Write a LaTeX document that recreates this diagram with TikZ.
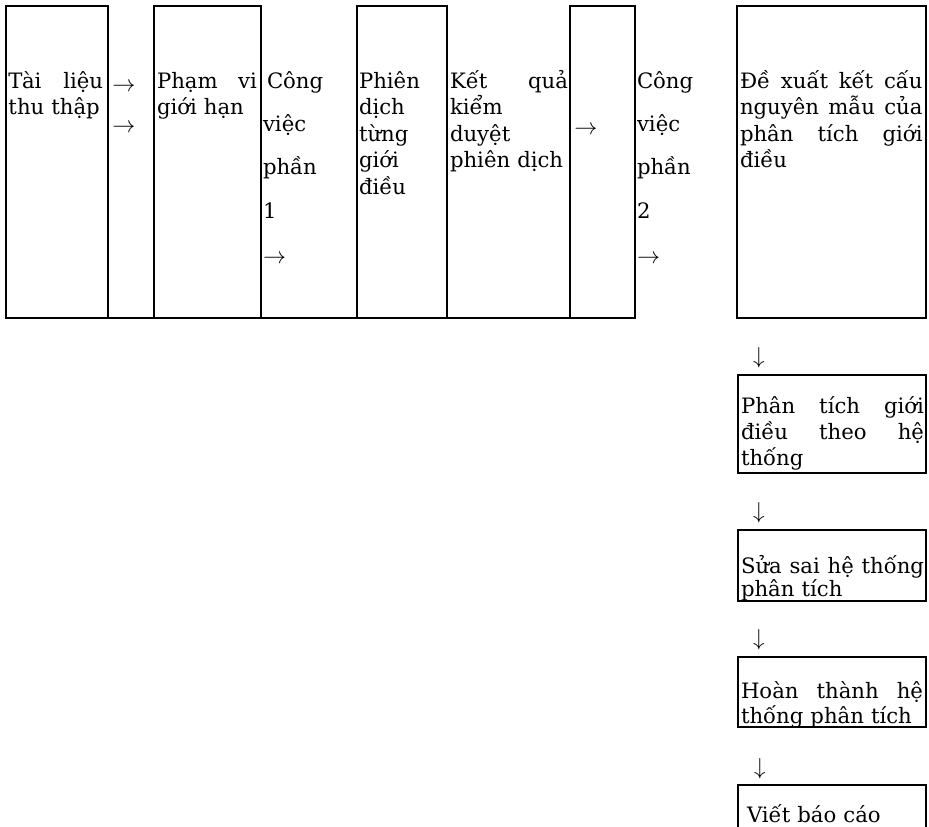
\documentclass[tikz,border=0pt]{standalone}
\usepackage{fontspec}
\setmainfont{DejaVu Serif}
\newcommand\jl[2]{\leavevmode\hbox to #1{\spaceskip=0.3em plus 10em\relax #2}}
\tikzset{
  boxline/.style={line width=1.4pt, line join=miter},
  txt/.style={anchor=base west, inner sep=0pt, outer sep=0pt, align=left,
              font=\fontsize{15.9pt}{#1}\selectfont},
  txt/.default=19.9pt,
  glyph/.style={inner sep=0pt, outer sep=0pt, font=\fontsize{17.28pt}{20pt}\selectfont},
}
\begin{document}
\begin{tikzpicture}[x=0.75pt,y=-0.75pt]
\clip (0,0) rectangle (929,826);
\fill[white] (0,0) rectangle (929,826);
% top row boxes
\draw[boxline] (6,6) rectangle (108,318);
\draw[boxline] (154,6) rectangle (261,318);
\draw[boxline] (357,6) rectangle (447,318);
\draw[boxline] (570,6) rectangle (635,318);
\draw[boxline] (737,6) rectangle (926,318);
\draw[boxline] (6,318) -- (635,318);
% right column boxes
\draw[boxline] (738,375) rectangle (926,473);
\draw[boxline] (738,530) rectangle (926,601);
\draw[boxline] (738,657) rectangle (926,727);
\draw[boxline] (738,840) -- (738,785) -- (926,785) -- (926,840);
% texts top row
\node[txt, text width=94.5] (t1) at (8.5,88) {\jl{70.9pt}{Tài liệu}\\thu thập};
\node[glyph] (ar1) at (124,87) {$\rightarrow$};
\node[glyph] (ar2) at (124,128) {$\rightarrow$};
\node[txt, text width=100] (t2) at (157,88) {\jl{75pt}{Phạm vi}\\giới hạn};
\node[txt=32.6pt, text width=90] (cv1) at (263,88) {\hspace{3pt}Công\\việc\\phần\\1\\\raisebox{-1pt}{\fontsize{17.28pt}{20pt}\selectfont$\rightarrow$}};
\node[txt, text width=85] (t3) at (359,88) {Phiên\\dịch\\từng\\giới\\điều};
\node[txt, text width=118] (t4) at (450,88) {\jl{88.5pt}{Kết quả}\\kiểm\\duyệt\\phiên dịch};
\node[glyph] (ar5) at (586,130) {$\rightarrow$};
\node[txt=32.6pt, text width=95] (cv2) at (637,88) {Công\\việc\\phần\\2\\\raisebox{-1pt}{\fontsize{17.28pt}{20pt}\selectfont$\rightarrow$}};
\node[txt, text width=182.5] (t6) at (740,88) {\jl{136.9pt}{Đề xuất kết cấu}\\\jl{136.9pt}{nguyên mẫu của}\\\jl{136.9pt}{phân tích giới}\\điều};
% right column
\node[glyph] (d1) at (759,358) {$\downarrow$};
\node[txt=19.5pt, text width=183] (tA) at (741,413) {\jl{137.25pt}{Phân tích giới}\\\jl{137.25pt}{điều theo hệ}\\thống};
\node[glyph] (d2) at (759,513) {$\downarrow$};
\node[txt=17.25pt, text width=183] (tB) at (741,573) {\jl{137.25pt}{Sửa sai hệ thống}\\phân tích};
\node[glyph] (d3) at (759,640) {$\downarrow$};
\node[txt=18.75pt, text width=182] (tC) at (741,698) {\jl{136.5pt}{Hoàn thành hệ}\\thống phân tích};
\node[glyph] (d4) at (760,769) {$\downarrow$};
\node[txt, text width=180] (tD) at (747,822) {Viết báo cáo};
\end{tikzpicture}
\end{document}
